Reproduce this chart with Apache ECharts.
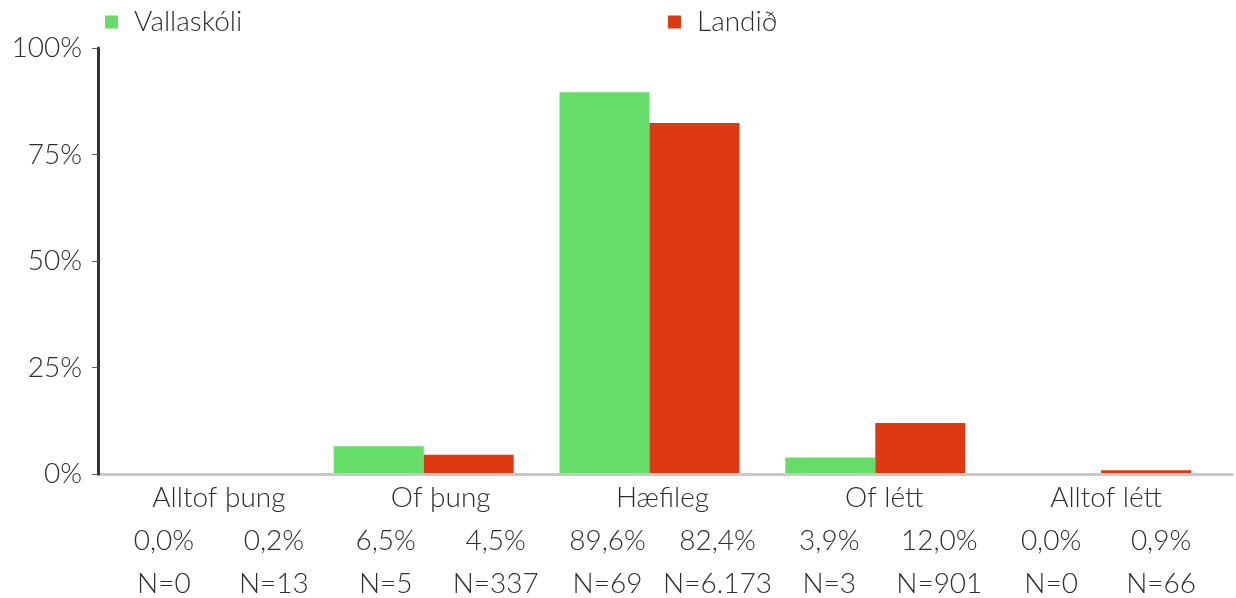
<!DOCTYPE html>
<html><head><meta charset="utf-8">
<script src="https://cdn.jsdelivr.net/npm/echarts@6/dist/echarts.min.js"></script>
<style>html,body{margin:0;padding:0;background:#fff}#c{width:1236px;height:598px}</style>
</head><body><div id="c"></div>
<script>
const categories = ['Alltof þung', 'Of þung', 'Hæfileg', 'Of létt', 'Alltof létt'];
const seriesNames = ['Vallaskóli', 'Landið'];
const valsVallaskoli = [0.0, 6.5, 89.6, 3.9, 0.0];
const valsLandid = [0.2, 4.5, 82.4, 12.0, 0.9];
const nVallaskoli = [0, 5, 69, 3, 0];
const nLandid = [13, 337, 6173, 901, 66];
const yTicks = [0, 25, 50, 75, 100];

const FONT = 'Lato';
const FW = 300;
const TXT = '#2e2e2e';
const GREEN = '#66DC69';
const RED = '#DD3913';

function pct(v){ return v.toFixed(1).replace('.', ',') + '%'; }
function nFmt(n){ return 'N=' + String(n).replace(/\B(?=(\d{3})+(?!\d))/g, '.'); }

const chart = echarts.init(document.getElementById('c'));
const gTop = 48, gBottom = 124;
const txt = { fontFamily: FONT, fontWeight: FW, fontSize: 28, color: TXT };
chart.setOption({
  animation: false,
  textStyle: { fontFamily: FONT },
  legend: [
    { data: [seriesNames[0]], left: 100, top: 3, itemWidth: 13, itemHeight: 13, icon: 'rect',
      textStyle: Object.assign({}, txt, { padding: [0,0,0,11] }) },
    { data: [seriesNames[1]], left: 663, top: 3, itemWidth: 13, itemHeight: 13, icon: 'rect',
      textStyle: Object.assign({}, txt, { padding: [0,0,0,11] }) }
  ],
  grid: [
    { left: 85, right: 22, top: gTop, bottom: gBottom },
    { left: 108, right: 19, top: gTop, bottom: gBottom },
    { left: 98, right: 4, top: gTop, bottom: gBottom }
  ],
  xAxis: [
    { type: 'category', gridIndex: 0, data: categories, axisLine: { show: false }, axisTick: { show: false }, axisLabel: { show: false } },
    { type: 'category', gridIndex: 1, data: categories, axisLine: { show: false }, axisTick: { show: false },
      axisLabel: {
        interval: 0, margin: 2,
        formatter: function (v, i) {
          return '{n|' + v + '}\n{a|' + pct(valsVallaskoli[i]) + '}{b|' + pct(valsLandid[i]) + '}\n{a|' + nFmt(nVallaskoli[i]) + '}{b|' + nFmt(nLandid[i]) + '}';
        },
        rich: {
          n: Object.assign({}, txt, { lineHeight: 43, align: 'center' }),
          a: Object.assign({}, txt, { lineHeight: 43, width: 110, align: 'center' }),
          b: Object.assign({}, txt, { lineHeight: 43, width: 110, align: 'center' })
        }
      } },
    { type: 'category', gridIndex: 2, data: categories, z: 10,
      axisLine: { show: true, lineStyle: { color: '#c8c8c8', width: 3 } },
      axisTick: { show: false }, axisLabel: { show: false } }
  ],
  yAxis: [
    { type: 'value', gridIndex: 0, min: 0, max: 100, interval: 25, show: false },
    { type: 'value', gridIndex: 1, min: 0, max: 100, interval: 25, show: false },
    { type: 'value', gridIndex: 2, min: 0, max: 100, interval: 25, z: 11,
      axisLine: { show: true, lineStyle: { color: '#333', width: 3 } },
      axisTick: { show: true, length: 6, lineStyle: { color: '#555', width: 1 } },
      splitLine: { show: false },
      axisLabel: Object.assign({}, txt, { margin: 16,
        formatter: function (v) { return yTicks.indexOf(v) >= 0 ? v + '%' : ''; } }) }
  ],
  series: [
    { name: seriesNames[0], type: 'bar', xAxisIndex: 0, yAxisIndex: 0, data: valsVallaskoli, barWidth: 90, barGap: '0%', itemStyle: { color: GREEN }, z: 2 },
    { name: seriesNames[1], type: 'bar', xAxisIndex: 0, yAxisIndex: 0, data: valsLandid, barWidth: 90, barGap: '0%', itemStyle: { color: RED }, z: 2 }
  ]
});
</script></body></html>
